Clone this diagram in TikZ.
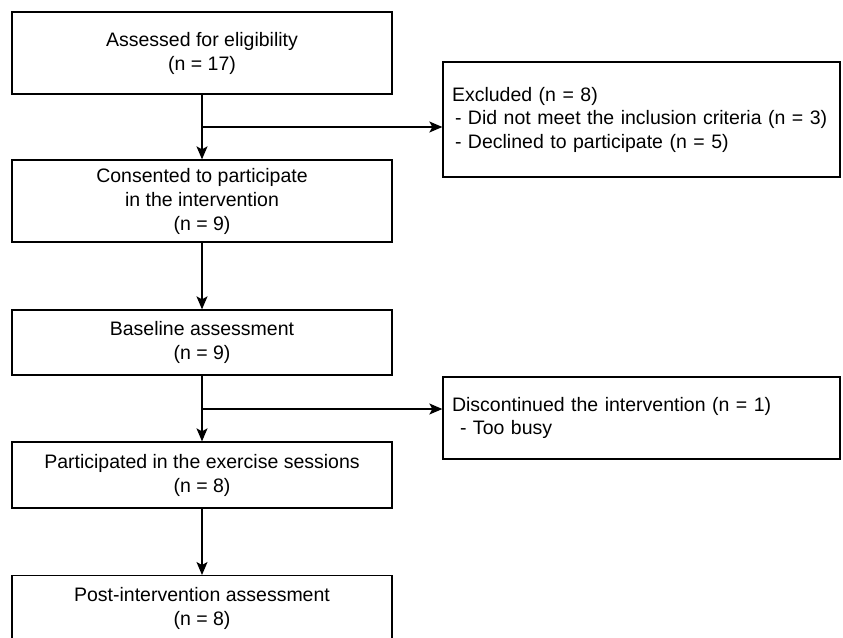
\documentclass[tikz,border=0pt]{standalone}
\usepackage{fontspec}
\setmainfont{Liberation Sans}
\usetikzlibrary{arrows.meta}
\begin{document}
\begin{tikzpicture}[x=1pt,y=-1pt,
  box/.style={draw, line width=1.3pt, inner sep=0pt, minimum width=380pt, align=center,
    font=\fontsize{19.5}{24}\selectfont},
  rbox/.style={draw, line width=1.3pt, inner sep=0pt, minimum width=397pt, text width=379pt, align=left,
    font=\fontsize{19.5}{23.5}\selectfont},
  arr/.style={line width=1.3pt, -{Stealth[length=13pt,width=11pt,inset=3pt]}},
  ln/.style={line width=1.3pt}]
\clip (0,0) rectangle (843,637);
\fill[white] (0,0) rectangle (843,637);
\node[box, minimum height=82pt] (b1) at (202,53) {Assessed for eligibility\\(n = 17)};
\node[box, minimum height=82pt] (b2) at (202,201) {Consented to participate\\in the intervention\\(n = 9)};
\node[box, minimum height=65pt] (b3) at (202,342.5) {Baseline assessment\\(n = 9)};
\node[box, minimum height=66pt] (b4) at (202,475) {Participated in the exercise sessions\\(n = 8)};
\node[box, minimum height=66pt, anchor=north] (b5) at (202,575) {Post-intervention assessment\\(n = 8)};
\node[rbox, minimum height=115pt] (e1) at (641.5,119.5) {Excluded (n = 8)\\\hspace{3pt}- Did not meet the inclusion criteria (n = 3)\\\hspace{3pt}- Declined to participate (n = 5)};
\node[rbox, minimum height=82pt] (e2) at (641.5,418) {Discontinued the intervention (n = 1)\\\hspace{8pt}- Too busy};
\coordinate (j1) at (202,127);
\coordinate (j2) at (202,409);
\draw[arr] (b1) -- (b2);
\draw[arr] (b2) -- (b3);
\draw[arr] (b3) -- (b4);
\draw[arr] (b4) -- (b5);
\draw[arr] (j1) -- (j1 -| e1.west);
\draw[arr] (j2) -- (j2 -| e2.west);
\end{tikzpicture}
\end{document}
